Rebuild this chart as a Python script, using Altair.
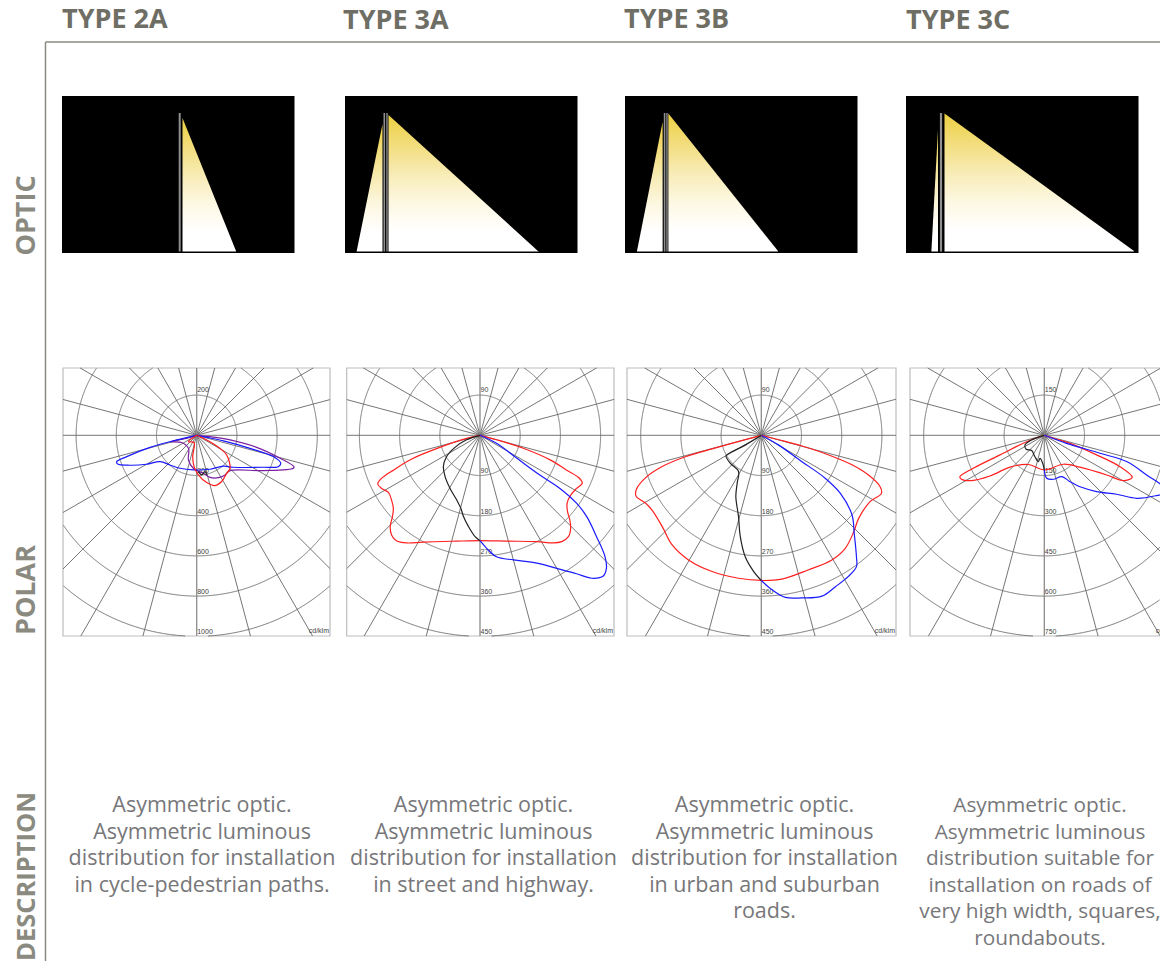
import math
import altair as alt
import pandas as pd

# ---- text ----
types = ["TYPE 2A", "TYPE 3A", "TYPE 3B", "TYPE 3C"]
rows = ["OPTIC", "POLAR", "DESCRIPTION"]
descriptions = [
    ["Asymmetric optic.", "Asymmetric luminous", "distribution for installation", "in cycle-pedestrian paths."],
    ["Asymmetric optic.", "Asymmetric luminous", "distribution for installation", "in street and highway."],
    ["Asymmetric optic.", "Asymmetric luminous", "distribution for installation", "in urban and suburban", "roads."],
    ["Asymmetric optic.", "Asymmetric luminous", "distribution suitable for", "installation on roads of",
     "very high width, squares,", "roundabouts."],
]
polar_step = [200, 90, 90, 150]   # cd/klm per ring

# ---- polar curves: lateral / downward luminous intensity, cd/klm ----
curves = [
    # TYPE 2A
    dict(panel=0, color="#7b1fa2",
         x=[0,-66,-133,-75,-41,-41,-17,33,66,108,141,166,332,481,484,415,298,166,66,0],
         y=[0,18,32,36,65,123,164,189,209,211,197,176,176,164,156,114,60,23,7,0]),
    dict(panel=0, color="#222222",
         x=[8,25,41,50],
         y=[181,197,181,197]),
    dict(panel=0, color="#1a1aff",
         x=[0,-99,-232,-348,-398,-393,-332,-249,-182,-133,-83,-17,66,133,182,332,406,418,381,265,133,50,0],
         y=[0,23,60,106,131,143,149,144,131,148,164,172,169,153,159,159,156,139,106,65,28,10,0]),
    dict(panel=0, color="#ff1a1a",
         x=[0,-41,-13,-20,-13,8,50,91,124,149,166,149,116,50,0],
         y=[0,32,36,106,156,197,235,250,230,189,164,98,65,23,0]),
    # TYPE 3A
    dict(panel=1, color="#ff2020",
         x=[0,-30,-90,-153,-194,-220,-229,-220,-205,-198,-194,-196,-201,-198,-187,-164,-127,-52,0,60,127,164,183,198,203,201,196,195,203,216,229,220,194,157,97,37,0],
         y=[0,7,27,53,78,96,109,119,128,145,163,182,204,223,236,241,239,237,236,237,238,241,238,227,208,189,171,152,134,119,107,94,78,55,29,10,0]),
    dict(panel=1, color="#222222",
         x=[0,-30,-56,-75,-82,-78,-67,-52,-43,-37,-26,-11,0],
         y=[0,10,27,48,70,93,119,145,163,182,204,227,236]),
    dict(panel=1, color="#1a1aff",
         x=[0,37,82,134,179,216,239,261,280,283,276,250,216,172,127,75,37,15,0],
         y=[0,18,51,89,119,152,182,227,272,298,315,320,310,298,286,279,272,253,236]),
    # TYPE 3B
    dict(panel=2, color="#ff2020",
         x=[0,-66,-170,-222,-260,-280,-280,-260,-245,-222,-200,-163,-110,-51,1,46,106,158,188,207,218,244,269,266,240,203,151,91,39,0],
         y=[0,18,48,70,96,122,137,151,167,204,245,279,305,320,325,322,301,279,253,216,186,148,130,115,89,66,44,24,10,0]),
    dict(panel=2, color="#222222",
         x=[0,-36,-66,-79,-69,-51,-54,-57,-51,-47,-36,-17,0],
         y=[0,22,37,46,63,81,107,137,182,227,272,305,325]),
    dict(panel=2, color="#1a1aff",
         x=[0,39,91,143,177,203,208,213,213,195,166,136,91,54,24,0],
         y=[0,22,59,96,130,178,219,272,294,316,339,360,364,363,346,325]),
    # TYPE 3C
    dict(panel=3, color="#ff2020",
         x=[0,-66,-165,-265,-315,-309,-271,-203,-128,-60,2,71,133,233,295,328,282,195,96,46,0],
         y=[0,24,73,123,154,164,169,152,119,109,129,108,119,148,169,157,117,73,30,15,0]),
    dict(panel=3, color="#222222",
         x=[0,-47,-72,-68,-47,-35,-22,-16,-6,0],
         y=[0,17,36,52,57,80,98,86,104,129]),
    dict(panel=3, color="#1a1aff",
         x=[0,83,208,307,382,450,450,419,345,270,195,139,96,65,34,9,0],
         y=[0,30,67,98,148,198,216,225,235,220,210,194,173,154,164,160,129]),
]

# ---- light cones in the optic pictures ----
cones = [
    dict(panel=0, x=[182.5, 236], y=[118, 251]),
    dict(panel=1, x=[356.5, 382.5], y=[252, 124]),
    dict(panel=1, x=[388.5, 539], y=[115, 252]),
    dict(panel=2, x=[637, 662.6], y=[251, 122]),
    dict(panel=2, x=[668.4, 778], y=[113.4, 251]),
    dict(panel=3, x=[931.4, 938], y=[251, 129.5]),
    dict(panel=3, x=[944.5, 1134], y=[113.4, 251]),
]
poles = [
    dict(x=179.7, w=2.0), dict(x=384.3, w=1.6), dict(x=387.0, w=1.4),
    dict(x=664.6, w=1.6), dict(x=667.0, w=1.4), dict(x=941.0, w=2.2),
]

# ---- layout ----
title_x = [62, 343, 624, 906]
optic_left = [62, 345, 625, 906]
optic_w, optic_top, optic_bottom = 232.5, 96, 253
frame_l = [63, 346.7, 627, 910]
frame_r = [330, 614, 896, 1177]
frame_t, frame_b = 368, 636
center_x = [196.7, 480, 761.3, 1044.3]
center_y = 435.3
ring_px = 40.2
desc_x = [202, 483.5, 764.5, 1040]
desc_size = [21.5, 21.5, 21.5, 20.8]
desc_first, desc_lh = 806, 26.6
side_y = [215.5, 590, 876.5]
side_size = [27, 27, 25.5]

X = alt.X("x:Q", axis=None, scale=alt.Scale(domain=[8, 1160], nice=False, zero=False))
Y = alt.Y("y:Q", axis=None, scale=alt.Scale(domain=[961, 8], nice=False, zero=False))

# grid lines
ring_rows, ray_rows = [], []
sid = 0
for p in range(4):
    l, r, t, b = frame_l[p], min(frame_r[p], 1160), frame_t, frame_b
    cx, cy = center_x[p], center_y
    for k in range(1, 7):
        rad = ring_px * k
        sid += 1
        for i in range(0, 1441):
            a = math.radians(i / 4)
            x, y = cx + rad * math.cos(a), cy + rad * math.sin(a)
            if l <= x <= r and t <= y <= b:
                ring_rows.append(dict(x=x, y=y, s=sid, i=i))
            else:
                sid += 1
    for deg in range(0, 360, 15):
        a = math.radians(deg)
        dx, dy = math.cos(a), math.sin(a)
        ts = []
        if dx > 1e-9: ts.append((r - cx) / dx)
        if dx < -1e-9: ts.append((l - cx) / dx)
        if dy > 1e-9: ts.append((b - cy) / dy)
        if dy < -1e-9: ts.append((t - cy) / dy)
        e = min(ts)
        ray_rows.append(dict(x=cx, y=cy, x2=cx + e * dx, y2=cy + e * dy,
                             axis=deg in (90, 270)))
rings_df = pd.DataFrame(ring_rows)
rays_df = pd.DataFrame(ray_rows)

line_stroke = "#666666"
rings = alt.Chart(rings_df).mark_line(stroke=line_stroke, strokeWidth=0.9).encode(
    x=X, y=Y, detail="s:N", order="i:Q")
rays = alt.Chart(rays_df[~rays_df["axis"]]).mark_rule(stroke=line_stroke, strokeWidth=0.9).encode(
    x=X, y=Y, x2="x2:Q", y2="y2:Q")
axis_rays = alt.Chart(rays_df[rays_df["axis"]]).mark_rule(stroke="#8c8c8c", strokeWidth=1.3).encode(
    x=X, y=Y, x2="x2:Q", y2="y2:Q")

frames = alt.Chart(pd.DataFrame(dict(x=frame_l, x2=frame_r, y=[frame_t] * 4, y2=[frame_b] * 4))).mark_rect(
    fill="#ffffff", stroke="#bdbdbd", strokeWidth=1.2).encode(x=X, x2="x2:Q", y=Y, y2="y2:Q")

# curves
curve_rows = []
for cid, c in enumerate(curves):
    p = c["panel"]
    f = ring_px / polar_step[p]
    for i, (vx, vy) in enumerate(zip(c["x"], c["y"])):
        curve_rows.append(dict(x=center_x[p] + vx * f, y=center_y + vy * f, c=cid, i=i, color=c["color"]))
curve_layer = alt.Chart(pd.DataFrame(curve_rows)).mark_line(
    strokeWidth=1.2, interpolate="catmull-rom").encode(
    x=X, y=Y, detail="c:N", order="i:Q", color=alt.Color("color:N", scale=None))

# ring and corner labels
lab_rows = []
for p in range(4):
    s = polar_step[p]
    lab_rows.append(dict(x=center_x[p] + 0.5, y=center_y - ring_px - 2.5, t=str(s)))
    for k in range(1, 6):
        lab_rows.append(dict(x=center_x[p] + 0.5, y=center_y + ring_px * k - 1.2, t=str(s * k)))
ring_labels = alt.Chart(pd.DataFrame(lab_rows)).mark_text(
    align="left", baseline="bottom", font="Liberation Sans", fontSize=7, color="#444444").encode(
    x=X, y=Y, text="t:N")
unit_labels = alt.Chart(pd.DataFrame(dict(x=[r - 1 for r in frame_r], y=[frame_b - 2.5] * 4, t=["cd/klm"] * 4))).mark_text(
    align="right", baseline="bottom", font="Liberation Sans", fontSize=7, color="#444444").encode(
    x=X, y=Y, text="t:N")

# optic pictures
optic_bg = alt.Chart(pd.DataFrame(dict(
    x=optic_left, x2=[v + optic_w for v in optic_left], y=[optic_top] * 4, y2=[optic_bottom] * 4))).mark_rect(
    fill="#000000").encode(x=X, x2="x2:Q", y=Y, y2="y2:Q")
cone_rows = []
for i, c in enumerate(cones):
    for vx, vy in zip(c["x"], c["y"]):
        cone_rows.append(dict(x=vx, y=vy, y2=251.5, c=i))
gold = alt.Gradient(gradient="linear", x1=0, x2=0, y1=0, y2=1, stops=[
    alt.GradientStop(color="#ecd042", offset=0),
    alt.GradientStop(color="#f2dc78", offset=0.2),
    alt.GradientStop(color="#f8edba", offset=0.45),
    alt.GradientStop(color="#fdf8e4", offset=0.65),
    alt.GradientStop(color="#ffffff", offset=0.85),
    alt.GradientStop(color="#ffffff", offset=1),
])
cone_layer = alt.Chart(pd.DataFrame(cone_rows)).mark_area(color=gold).encode(
    x=X, y=Y, y2="y2:Q", detail="c:N")
pole_layer = alt.Chart(pd.DataFrame(
    [dict(x=p["x"] - p["w"] / 2, x2=p["x"] + p["w"] / 2, y=113, y2=251.5) for p in poles])).mark_rect(
    fill="#8f8f8f").encode(x=X, x2="x2:Q", y=Y, y2="y2:Q")

# headings
titles = alt.Chart(pd.DataFrame(dict(x=title_x, y=[28, 29, 28, 29], t=types))).mark_text(
    align="left", baseline="alphabetic", font="Open Sans", fontWeight="bold", fontSize=27,
    color="#6e6e64").encode(x=X, y=Y, text="t:N")
side = alt.Chart(pd.DataFrame(dict(x=[35, 35, 35], y=side_y, t=rows, s=side_size))).mark_text(
    align="center", baseline="alphabetic", angle=270, font="Open Sans", fontWeight="bold",
    color="#8a8a80").encode(x=X, y=Y, text="t:N", size=alt.Size("s:Q", scale=None))

desc_rows = []
for p, lines in enumerate(descriptions):
    for j, line in enumerate(lines):
        desc_rows.append(dict(x=desc_x[p], y=desc_first + j * desc_lh, t=line, s=desc_size[p]))
desc = alt.Chart(pd.DataFrame(desc_rows)).mark_text(
    align="center", baseline="middle", font="Open Sans", color="#77777a").encode(
    x=X, y=Y, text="t:N", size=alt.Size("s:Q", scale=None))

# outer rules
outer_h = alt.Chart(pd.DataFrame(dict(x=[45.5], x2=[1160], y=[42]))).mark_rule(
    stroke="#8a8a80", strokeWidth=1.5).encode(x=X, x2="x2:Q", y=Y)
outer_v = alt.Chart(pd.DataFrame(dict(x=[45.5], y=[42], y2=[961]))).mark_rule(
    stroke="#8a8a80", strokeWidth=1.5).encode(x=X, y=Y, y2="y2:Q")

chart = alt.layer(
    outer_h, outer_v, titles, side,
    optic_bg, cone_layer, pole_layer,
    frames, rings, rays, axis_rays, ring_labels, unit_labels, curve_layer,
    desc,
).resolve_scale(color="independent").properties(
    width=1152, height=953, padding=0, autosize=alt.AutoSizeParams(type="none"),
).configure_view(stroke=None)

chart.save("out.html", embed_options={"renderer": "svg", "actions": False})
